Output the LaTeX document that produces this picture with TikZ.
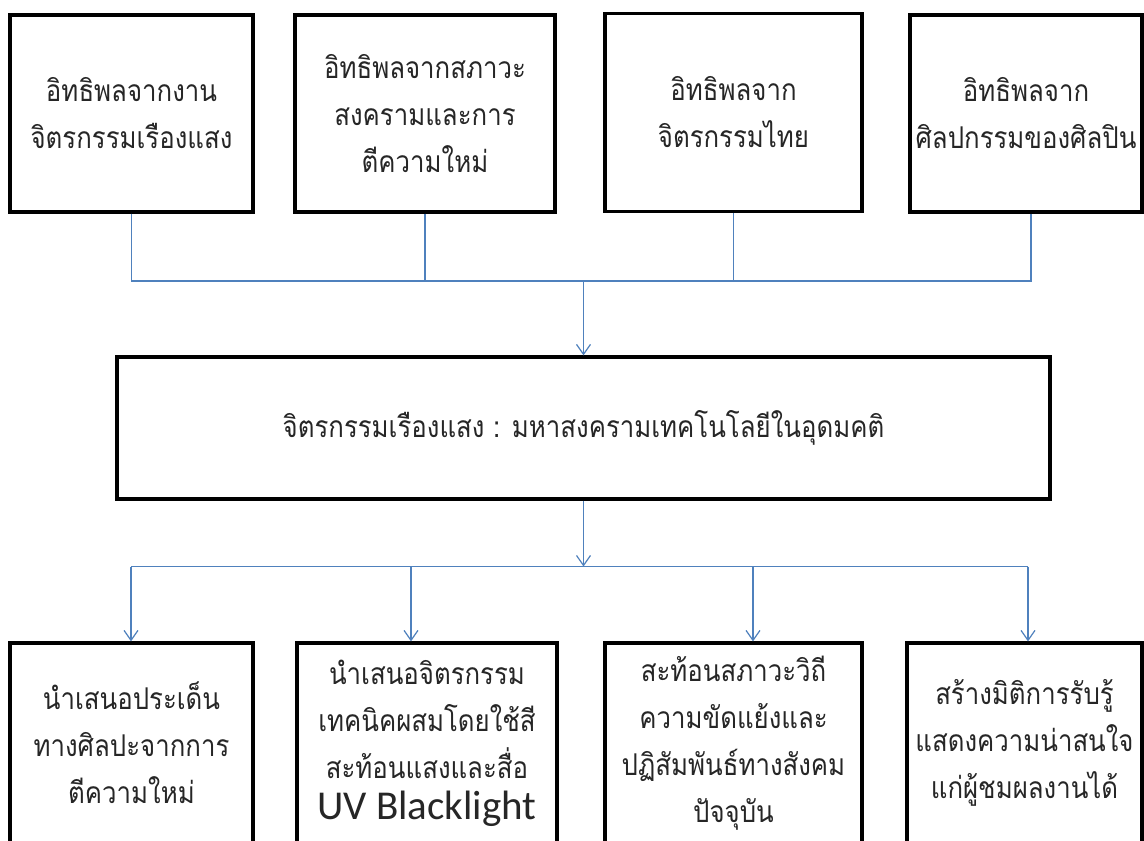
\documentclass[tikz,border=0pt]{standalone}
\usepackage{fontspec}
\newfontfamily\thaifont[Script=Thai,FakeStretch=0.86]{Loma}
\newfontfamily\latfont{Carlito}
\usetikzlibrary{arrows.meta}
\definecolor{conn}{RGB}{79,129,189}
\tikzset{
  box/.style={draw=black, line width=3.2pt, align=center, inner sep=0pt,
    font=\thaifont\fontsize{30}{47}\selectfont, text=black!85},
  link/.style={draw=conn, line width=1.2pt},
  arr/.style={link, -{Straight Barb[length=10pt,width=14pt,line width=1.2pt]}}
}
\begin{document}
\begin{tikzpicture}[x=1pt,y=-1pt]
\useasboundingbox (0,0) rectangle (1144,841);
\clip (0,0) rectangle (1144,841);
\fill[white] (0,0) rectangle (1144,841);
% top boxes
\node[box, minimum width=243pt, minimum height=197pt] (t1) at (131.5,113.5) {อิทธิพลจากงาน\\จิตรกรรมเรืองแสง};
\node[box, minimum width=260pt, minimum height=197pt] (t2) at (425,113.5) {อิทธิพลจากสภาวะ\\สงครามและการ\\ตีความใหม่};
\node[box, minimum width=257pt, minimum height=198pt] (t3) at (733.5,112.5) {อิทธิพลจาก\\จิตรกรรมไทย};
\node[box, minimum width=232pt, minimum height=197pt] (t4) at (1026,113.5) {อิทธิพลจาก\\ศิลปกรรมของศิลปิน};
% middle box
\node[box, minimum width=933pt, minimum height=142pt] (m) at (583.5,428) {จิตรกรรมเรืองแสง : มหาสงครามเทคโนโลยีในอุดมคติ};
% bottom boxes
\node[box, minimum width=243pt, minimum height=200pt] (b1) at (131.5,743) {นำเสนอประเด็น\\ทางศิลปะจากการ\\ตีความใหม่};
\node[box, minimum width=260pt, minimum height=200pt] (b2) at (427,743) {นำเสนอจิตรกรรม\\เทคนิคผสมโดยใช้สี\\สะท้อนแสงและสื่อ\\[-6pt]{\latfont\fontsize{41}{44}\selectfont UV Blacklight}};
\node[box, minimum width=257pt, minimum height=200pt] (b3) at (733.5,743) {สะท้อนสภาวะวิถี\\ความขัดแย้งและ\\ปฏิสัมพันธ์ทางสังคม\\ปัจจุบัน};
\node[box, minimum width=235pt, minimum height=200pt] (b4) at (1024.5,743) {สร้างมิติการรับรู้\\แสดงความน่าสนใจ\\แก่ผู้ชมผลงานได้};
% upper junction
\coordinate (u1) at (131.5,281);
\coordinate (u4) at (1031,281);
\coordinate (uc) at (583.5,281);
\draw[link] (t1.south) -- (u1) -- (u4) -- ([xshift=5pt]t4.south);
\draw[link] (t2.south) -- (t2.south |- u1);
\draw[link] (t3.south) -- (t3.south |- u1);
\draw[arr] (uc) -- (m.north);
% lower junction
\coordinate (l1) at (131,566.5);
\coordinate (l2) at (411,566.5);
\coordinate (l3) at (753,566.5);
\coordinate (l4) at (1028,566.5);
\coordinate (lc) at (583.5,566.5);
\draw[arr] (m.south) -- (lc);
\draw[link] (l1) -- (l4);
\draw[arr] (l1) -- (l1 |- b1.north);
\draw[arr] (l2) -- (l2 |- b2.north);
\draw[arr] (l3) -- (l3 |- b3.north);
\draw[arr] (l4) -- (l4 |- b4.north);
\end{tikzpicture}
\end{document}
